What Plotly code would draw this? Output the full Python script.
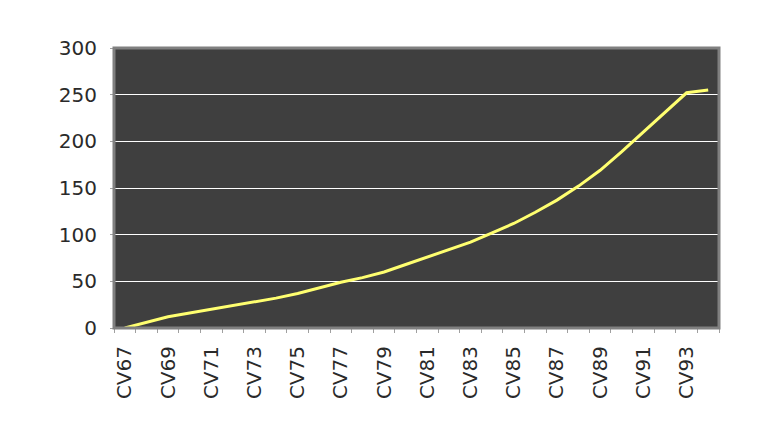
import plotly.graph_objects as go

# categories CV67 .. CV94
categories = ["CV67", "CV68", "CV69", "CV70", "CV71", "CV72", "CV73", "CV74",
              "CV75", "CV76", "CV77", "CV78", "CV79", "CV80", "CV81", "CV82",
              "CV83", "CV84", "CV85", "CV86", "CV87", "CV88", "CV89", "CV90",
              "CV91", "CV92", "CV93", "CV94"]

values = [0, 6, 12, 16, 20, 24, 28, 32, 37, 43, 49, 54, 60, 68,
          76, 84, 92, 102, 112, 124, 137, 152, 169, 189, 210, 231, 252, 255]

# only every other category gets a label
tick_labels = [c if i % 2 == 0 else "" for i, c in enumerate(categories)]

y_ticks = [0, 50, 100, 150, 200, 250, 300]

font_family = "DejaVu Sans"
text_colour = "#2a2a2a"

fig = go.Figure()

fig.add_trace(go.Scatter(
    x=categories,
    y=values,
    mode="lines",
    line=dict(color="#FFFF70", width=3),
    showlegend=False,
    hoverinfo="x+y"
))

# the page has an 8px body margin, so margins are set 8px smaller
fig.update_layout(
    width=780,
    height=443,
    margin=dict(l=106, r=69, t=40, b=123),
    paper_bgcolor="#ffffff",
    plot_bgcolor="#3f3f3f",
    font=dict(family=font_family, size=20, color=text_colour),
)

fig.update_xaxes(
    type="category",
    range=[-0.5, len(categories) - 0.5],
    tickmode="array",
    tickvals=categories,
    ticktext=tick_labels,
    tickangle=-90,
    tickson="boundaries",
    ticks="outside",
    ticklen=4,
    tickcolor="#a0a0a0",
    showgrid=False,
    showline=True,
    linecolor="#a0a0a0",
    linewidth=1,
    ticklabelstandoff=9,
    tickfont=dict(family=font_family, size=20, color=text_colour),
)

fig.update_yaxes(
    range=[0, 300],
    tickmode="array",
    tickvals=y_ticks,
    ticks="outside",
    ticklen=3,
    tickcolor="#a0a0a0",
    showgrid=True,
    gridcolor="#ffffff",
    gridwidth=1,
    zeroline=False,
    showline=False,
    ticklabelstandoff=9,
    tickfont=dict(family=font_family, size=20, color=text_colour),
)

# grey frame round the plot area
fig.add_shape(
    type="rect",
    xref="paper", yref="paper",
    x0=0, x1=1, y0=0, y1=1,
    line=dict(color="#808080", width=3),
    layer="above",
)

fig.write_html("out.html")
